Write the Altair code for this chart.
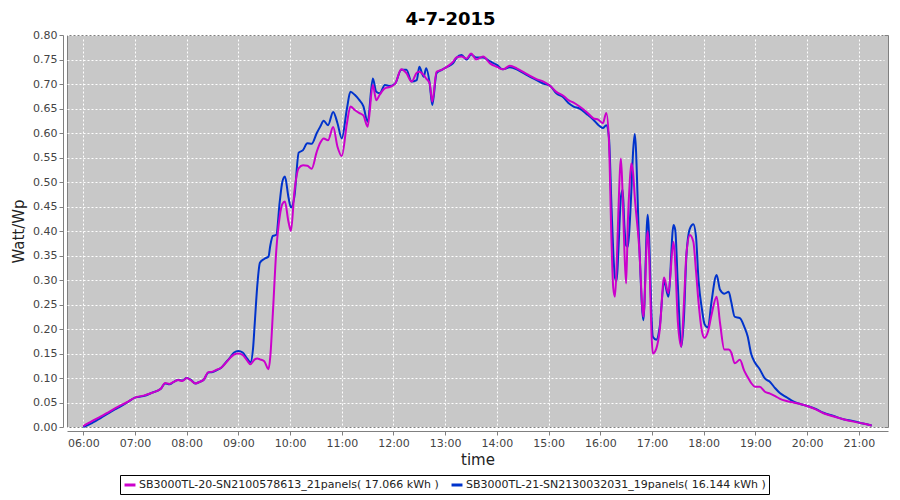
import altair as alt
import pandas as pd

times = ["06:00","06:10","06:20","06:30","06:40","06:50","07:00","07:10","07:20","07:30","07:35","07:40","07:45","07:50","07:55",
         "08:00","08:05","08:10","08:15","08:20","08:25","08:30","08:35","08:40","08:45","08:50","08:55","09:00","09:05","09:10","09:14",
         "09:17","09:19","09:22","09:25","09:30","09:35","09:37","09:40","09:44","09:48","09:51","09:54","09:58","10:01","10:05","10:10",
         "10:15","10:20","10:25","10:31","10:35","10:39","10:44","10:50","10:55","11:00","11:06","11:10","11:15","11:20","11:25","11:30",
         "11:36","11:40","11:44","11:50","11:56","12:02","12:09","12:15","12:21","12:27","12:30","12:35","12:38","12:42","12:45","12:50",
         "12:56","13:02","13:09","13:13","13:19","13:25","13:30","13:36","13:44","13:52","14:00","14:07","14:15","14:23","14:31","14:38",
         "14:46","14:54","15:02","15:09","15:17","15:23","15:29","15:36","15:44","15:52","15:58","16:03","16:07","16:10","16:13","16:15",
         "16:17","16:19","16:21","16:24","16:26","16:28","16:30","16:32","16:34","16:36","16:38","16:40","16:45","16:50","16:55","17:01",
         "17:05","17:09","17:14","17:19","17:25","17:27","17:30","17:34","17:37","17:40","17:44","17:48","17:51","17:54","17:58","18:01",
         "18:05","18:09","18:15","18:19","18:24","18:29","18:32","18:36","18:42","18:47","18:51","18:55","19:00","19:05","19:11","19:17",
         "19:23","19:28","19:36","19:44","19:52","20:00","20:10","20:19","20:30","20:42","20:54","21:05","21:15"]

sn20 = [0.002,0.012,0.021,0.031,0.041,0.050,0.060,0.064,0.070,0.078,0.090,0.088,0.092,0.096,0.094,
        0.100,0.095,0.089,0.092,0.097,0.112,0.113,0.117,0.121,0.130,0.140,0.148,0.150,0.147,0.136,0.128,
        0.134,0.138,0.140,0.138,0.134,0.118,0.143,0.232,0.361,0.430,0.455,0.460,0.420,0.400,0.480,0.528,
        0.534,0.533,0.527,0.562,0.580,0.589,0.585,0.612,0.572,0.553,0.620,0.654,0.647,0.641,0.636,0.613,
        0.698,0.667,0.678,0.691,0.694,0.701,0.730,0.722,0.705,0.723,0.725,0.718,0.711,0.701,0.664,0.725,
        0.729,0.735,0.745,0.754,0.756,0.752,0.762,0.750,0.756,0.742,0.735,0.730,0.737,0.732,0.724,0.717,
        0.710,0.705,0.696,0.684,0.676,0.667,0.662,0.654,0.643,0.630,0.627,0.620,0.641,0.586,0.380,0.285,
        0.266,0.330,0.440,0.548,0.470,0.360,0.293,0.420,0.494,0.538,0.520,0.470,0.370,0.225,0.400,0.150,
        0.160,0.198,0.305,0.273,0.378,0.334,0.215,0.164,0.250,0.354,0.392,0.378,0.320,0.255,0.195,0.182,
        0.195,0.228,0.266,0.212,0.158,0.158,0.152,0.130,0.137,0.115,0.102,0.090,0.082,0.082,0.072,0.068,
        0.063,0.058,0.053,0.050,0.047,0.043,0.036,0.028,0.022,0.016,0.011,0.007,0.003]

sn21 = [0.000,0.008,0.018,0.029,0.039,0.049,0.060,0.063,0.070,0.078,0.089,0.087,0.092,0.096,0.095,
        0.100,0.096,0.089,0.092,0.097,0.111,0.112,0.116,0.121,0.131,0.141,0.152,0.155,0.152,0.140,0.132,
        0.160,0.212,0.290,0.335,0.343,0.348,0.370,0.390,0.392,0.460,0.500,0.511,0.470,0.448,0.470,0.560,
        0.565,0.579,0.578,0.600,0.613,0.625,0.616,0.643,0.620,0.589,0.650,0.684,0.678,0.668,0.655,0.623,
        0.711,0.684,0.681,0.698,0.696,0.701,0.729,0.729,0.705,0.708,0.735,0.715,0.732,0.701,0.657,0.722,
        0.729,0.735,0.742,0.753,0.759,0.750,0.760,0.754,0.754,0.746,0.739,0.730,0.734,0.730,0.722,0.715,
        0.708,0.701,0.696,0.681,0.673,0.661,0.654,0.650,0.639,0.627,0.616,0.610,0.616,0.592,0.450,0.360,
        0.305,0.298,0.360,0.470,0.484,0.410,0.370,0.368,0.410,0.480,0.560,0.598,0.382,0.218,0.433,0.184,
        0.178,0.205,0.297,0.266,0.412,0.402,0.290,0.164,0.220,0.351,0.405,0.414,0.390,0.300,0.240,0.210,
        0.203,0.255,0.310,0.280,0.272,0.276,0.255,0.225,0.222,0.205,0.185,0.150,0.130,0.118,0.099,0.092,
        0.079,0.070,0.061,0.052,0.047,0.043,0.037,0.029,0.023,0.016,0.012,0.007,0.003]

name20 = "SB3000TL-20-SN2100578613_21panels( 17.066 kWh )"
name21 = "SB3000TL-21-SN2130032031_19panels( 16.144 kWh )"
series_names = [name20, name21]
series_colors = ["#cc00cc", "#0033cc"]
hour_ticks = list(range(6, 22))
y_ticks = [round(i * 0.05, 2) for i in range(17)]

assert len(times) == len(sn20) == len(sn21)

def to_hours(t):
    h, m = t.split(":")
    return int(h) + int(m) / 60.0

rows = []
for t, v in zip(times, sn21):
    rows.append({"hours": to_hours(t), "value": v, "series": name21, "ord": 0})
for t, v in zip(times, sn20):
    rows.append({"hours": to_hours(t), "value": v, "series": name20, "ord": 1})
df = pd.DataFrame(rows)

chart = alt.Chart(df).mark_line(strokeWidth=2, interpolate="monotone").encode(
    x=alt.X("hours:Q",
            scale=alt.Scale(domain=[5.685, 21.565], nice=False, zero=False),
            axis=alt.Axis(values=hour_ticks, title="time",
                          labelExpr="(datum.value < 10 ? '0' : '') + datum.value + ':00'",
                          titlePadding=4)),
    y=alt.Y("value:Q",
            scale=alt.Scale(domain=[0, 0.8], nice=False),
            axis=alt.Axis(values=y_ticks, format=".2f", title="Watt/Wp", titlePadding=6)),
    color=alt.Color("series:N",
                    scale=alt.Scale(domain=series_names, range=series_colors),
                    legend=alt.Legend(title=None, orient="none", legendX=53, legendY=440,
                                      direction="horizontal", symbolType="stroke",
                                      symbolStrokeWidth=3, symbolSize=120,
                                      labelFont="DejaVu Sans", labelFontSize=11, labelColor="#222",
                                      labelLimit=0, strokeColor="#000", fillColor="#fff",
                                      padding=3, columnPadding=6, symbolOffset=0, labelOffset=2,
                                      cornerRadius=0)),
    order=alt.Order("ord:Q"),
    detail="series:N",
).properties(
    width=821, height=392,
    autosize=alt.AutoSizeParams(type="none"),
    padding={"left": 59, "top": 27, "right": 4, "bottom": 70},
    title=alt.TitleParams("4-7-2015", font="DejaVu Sans", fontSize=18, fontWeight="bold",
                          color="#000", anchor="middle", dx=-27, offset=0),
).configure_view(
    fill="#c8c8c8", stroke="#808080", strokeWidth=1
).configure_axis(
    domainColor="#808080", tickColor="#808080", tickSize=4, offset=4,
    labelColor="#444444", labelFont="DejaVu Sans", labelFontSize=11,
    titleFont="DejaVu Sans", titleFontSize=15, titleFontWeight="normal", titleColor="#222",
    gridColor="#ffffff", gridDash=[2, 2], gridWidth=1, grid=True
)

chart.save("out.html", embed_options={"renderer": "svg", "actions": False})
